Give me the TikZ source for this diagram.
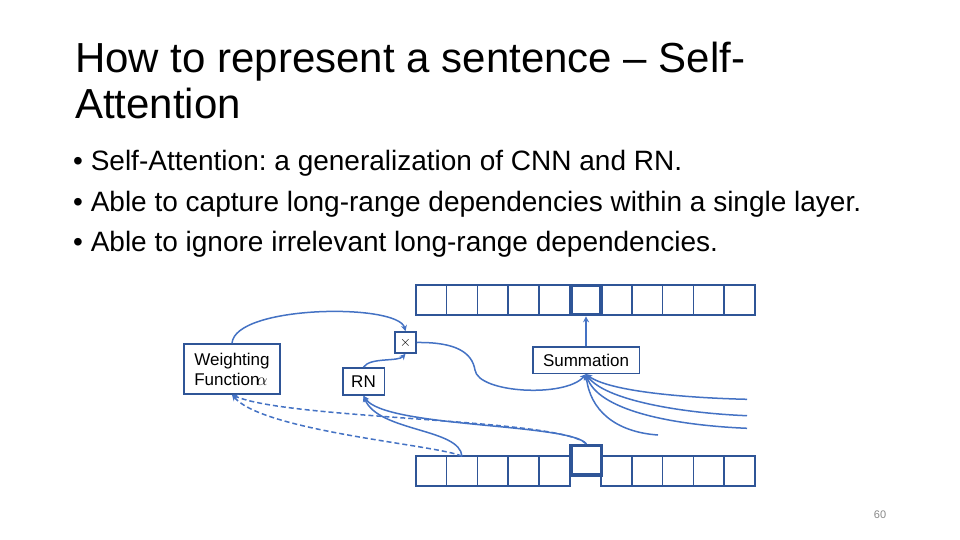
\documentclass[tikz,border=0pt]{standalone}
\usepackage{fontspec}
\setmainfont{Liberation Sans}
\usetikzlibrary{arrows.meta}
\frenchspacing
\definecolor{boxblue}{HTML}{2F5597}
\definecolor{linkblue}{HTML}{4472C4}
\definecolor{pagegray}{HTML}{898989}
\tikzset{
  cellbox/.style={draw=boxblue, line width=1.7pt, minimum width=30.85pt, minimum height=30pt, inner sep=0pt, outer sep=0pt},
  hibox/.style={draw=boxblue, line width=3.6pt, minimum width=31pt, minimum height=30pt, inner sep=0pt},
  opbox/.style={draw=boxblue, line width=1.6pt, inner sep=0pt, font=\fontsize{17}{20}\selectfont, align=left},
  link/.style={draw=linkblue, line width=1.5pt, -{Stealth[length=6pt,width=6pt]}},
  dlink/.style={link, dash pattern=on 5pt off 3pt},
  titletext/.style={anchor=base west, inner sep=0pt, font=\fontsize{42}{50}\selectfont},
  bullettext/.style={anchor=base west, inner sep=0pt, font=\fontsize{28}{34}\selectfont},
}
\begin{document}
\begin{tikzpicture}[x=1pt, y=-1pt]
\useasboundingbox (0,0) rectangle (960,540);
\fill[white] (0,0) rectangle (960,540);

% title and bullets
\node[titletext] (title1) at (75,73) {How to represent a sentence – Self-};
\node[titletext] (title2) at (75,119) {Attention};
\node[bullettext] (b1t) at (73,171) {• Self-Attention: a generalization of CNN and RN.};
\node[bullettext] (b2t) at (73,211) {• Able to capture long-range dependencies within a single layer.};
\node[bullettext] (b3t) at (73,251) {• Able to ignore irrelevant long-range dependencies.};

% top row
\foreach \i in {0,...,10}{
  \ifnum\i=5\relax\else
  \node[cellbox] (t\i) at ({415.7+30.85*(\i+0.5)},300) {};
  \fi
}
\node[hibox, minimum width=30pt, minimum height=29pt] (th) at (586,300) {};

% bottom row
\foreach \i in {0,...,10}{
  \ifnum\i=5\relax\else
  \node[cellbox] (b\i) at ({415.7+30.85*(\i+0.5)},471.3) {};
  \fi
}
\node[hibox, minimum width=30.5pt, minimum height=29.5pt] (bh) at (586.3,460.4) {};

% operator boxes
\node[opbox, minimum width=96pt, minimum height=50pt, inner xsep=8pt] (wf) at (232,369) {Weighting\\Function\kern-3pt$\alpha$};
\node[opbox, minimum width=21pt, minimum height=21pt, font=\fontsize{14}{14}\selectfont] (mul) at (405.5,342.5) {$\times$};
\node[opbox, minimum width=41.6pt, minimum height=27pt] (rn) at (363.5,381.5) {RN};
\node[opbox, minimum width=106.6pt, minimum height=26.6pt] (sum) at (586,360) {Summation};

% connectors
\draw[link] (sum.north) -- (th.south);
\draw[link] (wf.north) .. controls (235,305) and (398,303) .. (mul.north);
\draw[link] (rn.north) .. controls (370,357) and (398,362) .. (mul.south);
\draw[link] (mul.east) .. controls (455,342) and (472,352) .. (475,370) .. controls (478,393) and (565,398) .. (sum.south);

\coordinate (r1) at (747,399.3);
\coordinate (r2) at (747,415.7);
\coordinate (r3) at (747,428.3);
\coordinate (r4) at (658,435);
\draw[link] (r1) .. controls (690,398) and (610,392) .. (sum.south);
\draw[link] (r2) .. controls (680,413) and (605,400) .. (sum.south);
\draw[link] (r3) .. controls (670,425) and (598,410) .. (sum.south);
\draw[link] (r4) .. controls (615,432) and (590,410) .. (sum.south);

\draw[link] (bh.north) .. controls (570,423) and (385,428) .. (rn.south);
\draw[dlink] (bh.north) .. controls (560,418) and (290,420) .. (wf.south);
\draw[link] (b1.north) .. controls (460,428) and (378,432) .. (rn.south);
\draw[dlink] (b1.north) .. controls (440,445) and (265,432) .. (wf.south);

% page number
\node[anchor=base, inner sep=0pt, text=pagegray, font=\fontsize{11}{13}\selectfont] (pnum) at (880,518) {60};
\end{tikzpicture}
\end{document}
